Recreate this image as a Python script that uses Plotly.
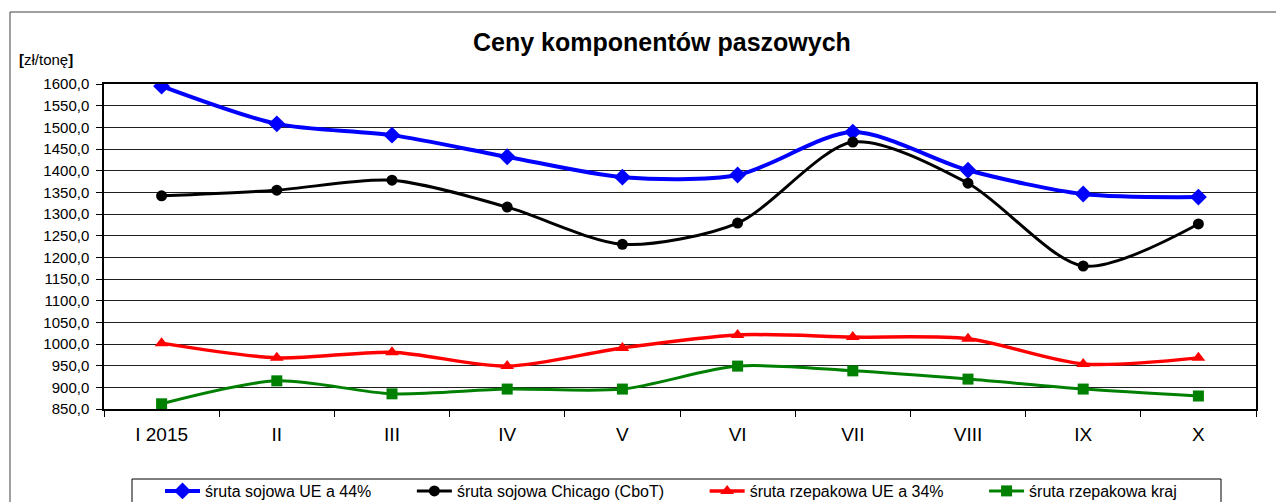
import plotly.graph_objects as go

months = ["I 2015", "II", "III", "IV", "V", "VI", "VII", "VIII", "IX", "X"]
soja_ue = [1595, 1508, 1482, 1432, 1385, 1390, 1489, 1401, 1346, 1339]
soja_chicago = [1342, 1355, 1378, 1316, 1230, 1279, 1466, 1371, 1180, 1277]
rzepak_ue = [1002, 968, 981, 949, 991, 1021, 1016, 1012, 954, 968]
rzepak_kraj = [862, 915, 885, 896, 896, 949, 938, 919, 896, 880]

names = ["śruta sojowa UE a 44%", "śruta sojowa Chicago (CboT)",
         "śruta rzepakowa UE a 34%", "śruta rzepakowa kraj"]
series = [soja_ue, soja_chicago, rzepak_ue, rzepak_kraj]
colors = ["#0000FF", "#000000", "#FF0000", "#008000"]
symbols = ["diamond", "circle", "triangle-up", "square"]
msizes = [13, 11, 12, 11]
lwidths = [4, 3, 3.5, 3]

PAD = "\u00a0" * 8

fig = go.Figure()
for n, s, c, sym, ms, lw in zip(names, series, colors, symbols, msizes, lwidths):
    fig.add_trace(go.Scatter(
        x=months, y=s, name=n + PAD, mode="lines+markers",
        line=dict(color=c, width=lw, shape="spline", smoothing=0.8),
        marker=dict(symbol=sym, size=ms, color=c),
    ))

# page has 8px body margin; figure coords = page coords - 8
OFF = 8
L, R, T, B = 104 - OFF, 1256 - OFF, 84 - OFF, 409 - OFF
W, H = 1284 - OFF, 502 - OFF
pw, ph = R - L, B - T

def px(x):
    return (x - OFF - L) / pw

def py(y):
    return (B - (y - OFF)) / ph

fig.update_layout(
    width=W, height=H,
    margin=dict(l=L, r=W - R, t=T, b=H - B, pad=0, autoexpand=False),
    paper_bgcolor="white", plot_bgcolor="white",
    separators=",.",
    font=dict(family="Liberation Sans, Arial, sans-serif", color="black"),
    showlegend=True,
    legend=dict(
        orientation="h", x=px(160), y=py(474), xanchor="left", yanchor="top",
        borderwidth=0, bgcolor="rgba(0,0,0,0)",
        font=dict(size=16, family="Liberation Sans, Arial"),
        itemwidth=35, tracegroupgap=0,
    ),
    shapes=[
        dict(type="rect", xref="paper", yref="paper",
             x0=px(10), x1=px(1300), y0=py(520), y1=py(12),
             line=dict(color="#404040", width=1), layer="below"),
        dict(type="rect", xref="paper", yref="paper",
             x0=px(132), x1=px(1221), y0=py(520), y1=py(479),
             line=dict(color="black", width=1), layer="below"),
    ],
    annotations=[
        dict(text="<b>Ceny komponentów paszowych</b>", xref="paper", yref="paper",
             x=px(662), y=py(42), xanchor="center", yanchor="middle",
             showarrow=False, font=dict(size=25)),
        dict(text="<b>[</b>zł/tonę<b>]</b>", xref="paper", yref="paper",
             x=px(17), y=py(60), xanchor="left", yanchor="middle",
             showarrow=False, font=dict(size=15)),
    ],
)

fig.update_xaxes(
    type="category", showgrid=False, showline=True, linecolor="black", linewidth=1.5,
    mirror=True, ticks="outside", tickson="boundaries", ticklen=6, tickcolor="black",
    tickfont=dict(size=19), ticklabelstandoff=7, range=[-0.5, 9.5], zeroline=False,
)
fig.update_yaxes(
    range=[850, 1600], dtick=50, tickformat=".1f", showgrid=True,
    gridcolor="#202020", gridwidth=1, showline=True, linecolor="black", linewidth=1.5,
    mirror=True, ticks="outside", ticklen=6, tickcolor="black",
    tickfont=dict(size=15), ticklabelstandoff=4, zeroline=False,
)

fig.write_html("out.html")
